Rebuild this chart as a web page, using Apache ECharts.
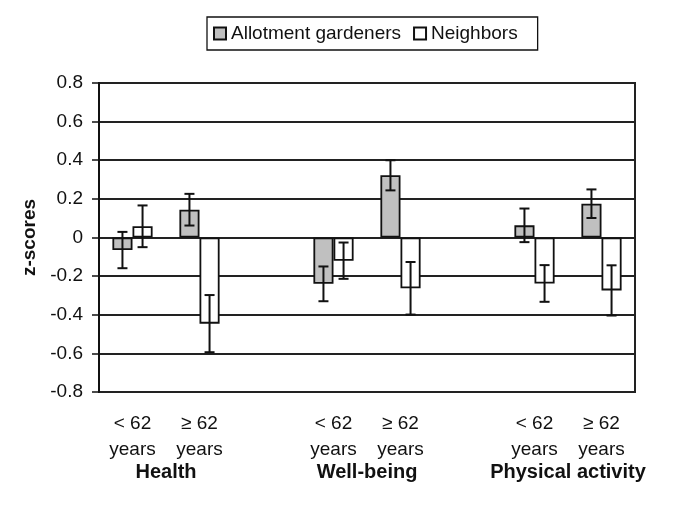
<!DOCTYPE html>
<html>
<head>
<meta charset="utf-8">
<script src="https://cdn.jsdelivr.net/npm/echarts@6/dist/echarts.min.js"></script>
<style>
html,body{margin:0;padding:0;background:#fff;}
#chart{width:685px;height:505px;}
</style>
</head>
<body>
<div id="chart"></div>
<script>
// Categories (blank spacers separate the three outcome groups)
var categories = ['< 62\nyears', '≥ 62\nyears', '', '< 62\nyears', '≥ 62\nyears', '', '< 62\nyears', '≥ 62\nyears'];
var groupNames = ['Health', 'Well-being', 'Physical activity'];
var groupPositions = [1, 4, 7];
var yTicks = [-0.8, -0.6, -0.4, -0.2, 0, 0.2, 0.4, 0.6, 0.8];

var gardeners    = [-0.065, 0.144, '-', -0.240, 0.322, '-', 0.063, 0.175];
var gardenersErr = [0.094, 0.082, '-', 0.090, 0.078, '-', 0.087, 0.074];
var neighbors    = [0.058, -0.446, '-', -0.120, -0.263, '-', -0.238, -0.274];
var neighborsErr = [0.108, 0.148, '-', 0.094, 0.136, '-', 0.095, 0.130];

var FONT = 'Liberation Sans, Arial, sans-serif';

function errData(vals, errs) {
  var out = [];
  for (var i = 0; i < vals.length; i++) {
    if (vals[i] === '-') continue;
    out.push([i, vals[i] - errs[i], vals[i] + errs[i]]);
  }
  return out;
}

function errRenderer(side) {
  return function (params, api) {
    var band = api.size([1, 0])[0];
    var off = side * band * 0.15;
    var lo = api.coord([api.value(0), api.value(1)]);
    var hi = api.coord([api.value(0), api.value(2)]);
    var x = lo[0] + off;
    var cap = 5;
    var st = {stroke: '#111', lineWidth: 2};
    return {
      type: 'group',
      children: [
        {type: 'line', shape: {x1: x, y1: lo[1], x2: x, y2: hi[1]}, style: st},
        {type: 'line', shape: {x1: x - cap, y1: lo[1], x2: x + cap, y2: lo[1]}, style: st},
        {type: 'line', shape: {x1: x - cap, y1: hi[1], x2: x + cap, y2: hi[1]}, style: st}
      ]
    };
  };
}

var chart = echarts.init(document.getElementById('chart'), null, {renderer: 'canvas'});
chart.setOption({
  animation: false,
  backgroundColor: '#fff',
  textStyle: {fontFamily: FONT},
  legend: {
    left: 207, top: 17,
    data: ['Allotment gardeners', 'Neighbors'],
    itemWidth: 12, itemHeight: 12, itemGap: 12,
    icon: 'rect',
    padding: [7, 20, 7, 6],
    borderColor: '#111', borderWidth: 1.3,
    textStyle: {fontSize: 19, color: '#111', fontFamily: FONT}
  },
  grid: {
    left: 99, right: 50, top: 83, bottom: 113,
    show: true, borderColor: '#222', borderWidth: 2, backgroundColor: '#fff'
  },
  xAxis: [{
    type: 'category',
    data: categories,
    position: 'bottom',
    axisLine: {show: false},
    axisTick: {show: false},
    axisLabel: {
      interval: 0, margin: 19, fontSize: 19, lineHeight: 26, color: '#111', fontFamily: FONT
    },
    splitLine: {show: false}
  }, {
    type: 'value',
    min: 0, max: categories.length,
    position: 'bottom',
    axisLine: {show: false},
    axisTick: {show: false},
    splitLine: {show: false},
    axisLabel: {
      customValues: groupPositions,
      margin: 68, fontSize: 20, lineHeight: 25, fontWeight: 'bold', color: '#111', fontFamily: FONT,
      formatter: function (v) {
        var i = groupPositions.indexOf(Math.round(v));
        return i >= 0 ? groupNames[i] : '';
      }
    }
  }],
  yAxis: {
    type: 'value',
    min: yTicks[0], max: yTicks[yTicks.length - 1], interval: 0.2,
    name: 'z-scores',
    nameLocation: 'middle',
    nameGap: 60,
    nameRotate: 90,
    nameMoveOverlap: false,
    nameTextStyle: {fontSize: 19, fontWeight: 'bold', color: '#111', fontFamily: FONT},
    axisLine: {show: true, lineStyle: {color: '#111', width: 2}},
    axisTick: {show: true, length: 7, inside: false, lineStyle: {color: '#111', width: 1.5}},
    axisLabel: {
      margin: 16, fontSize: 19, color: '#111', fontFamily: FONT,
      formatter: function (v) { return Math.abs(v) < 1e-9 ? '0' : v.toFixed(1); }
    },
    splitLine: {show: true, lineStyle: {color: '#222', width: 2}}
  },
  series: [{
    name: 'Allotment gardeners',
    type: 'bar',
    xAxisIndex: 0,
    data: gardeners,
    barWidth: '30%',
    barGap: '0%',
    itemStyle: {color: '#c0c0c0', borderColor: '#111', borderWidth: 1.8}
  }, {
    name: 'Neighbors',
    type: 'bar',
    xAxisIndex: 0,
    data: neighbors,
    barWidth: '30%',
    barGap: '0%',
    itemStyle: {color: '#ffffff', borderColor: '#111', borderWidth: 1.8}
  }, {
    type: 'custom',
    xAxisIndex: 0,
    renderItem: errRenderer(-1),
    data: errData(gardeners, gardenersErr),
    encode: {x: 0, y: [1, 2]},
    z: 10, silent: true
  }, {
    type: 'custom',
    xAxisIndex: 0,
    renderItem: errRenderer(1),
    data: errData(neighbors, neighborsErr),
    encode: {x: 0, y: [1, 2]},
    z: 10, silent: true
  }]
});
</script>
</body>
</html>
